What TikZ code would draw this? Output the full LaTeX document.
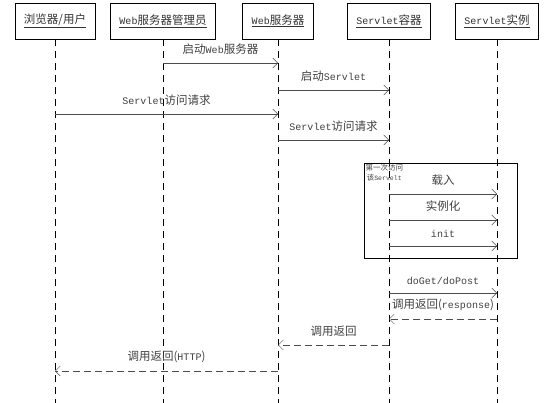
\documentclass[tikz,border=0pt]{standalone}
\usepackage{fontspec}
\setmainfont{Noto Sans CJK SC}
\setmonofont[Scale=0.87]{Liberation Mono}
\usetikzlibrary{arrows.meta,positioning}

\begin{document}
\begin{tikzpicture}[
    x=1pt, y=-1pt,
    actor/.style={rectangle, draw, thick, fill=white, minimum height=36pt, inner xsep=9pt, font=\fontsize{11.5}{13}\selectfont, text=black!80},
    lifeline/.style={dash pattern=on 7pt off 5pt, thin},
    msg/.style={-{Straight Barb[length=5pt,width=10pt]}, black!70, thin},
    reply/.style={msg, dash pattern=on 7pt off 4pt},
    lbl/.style={midway, above=5pt, font=\fontsize{11.5}{13}\selectfont, text=black!75},
]
    \useasboundingbox (0,0) rectangle (554,403);

    % Actors
    \node[actor] (user) at (55,21) {\underline{浏览器/用户}};
    \node[actor] (admin) at (163,21) {\underline{\texttt{Web}服务器管理员}};
    \node[actor] (web) at (278,21) {\underline{\texttt{Web}服务器}};
    \node[actor] (container) at (389,21) {\underline{\texttt{Servlet}容器}};
    \node[actor] (servlet) at (497,21) {\underline{\texttt{Servlet}实例}};

    % Lifelines
    \draw[lifeline] (user.south) -- (user |- 0,403);
    \draw[lifeline] (admin.south) -- (admin |- 0,403);
    \draw[lifeline] (web.south) -- (web |- 0,403);
    \draw[lifeline] (container.south) -- (container |- 0,403);
    \draw[lifeline] (servlet.south) -- (servlet |- 0,403);

    % First access frame
    \node[draw, thin, minimum width=153pt, minimum height=95pt, inner sep=0pt] (firstload) at (440.5,210.5) {};
    \node[anchor=north west, align=center, inner sep=1.5pt, font=\fontsize{7.5}{10}\selectfont, text=black!75] (firstlbl) at (firstload.north west) {第一次访问\\该\texttt{Servelt}};

    % Requests
    \draw[msg] (admin |- 0,63) -- node[lbl] {启动\texttt{Web}服务器} (web |- 0,63);
    \draw[msg] (web |- 0,90) -- node[lbl] {启动\texttt{Servlet}} (container |- 0,90);
    \draw[msg] (user |- 0,114) -- node[lbl] {\texttt{Servlet}访问请求} (web |- 0,114);
    \draw[msg] (web |- 0,140) -- node[lbl] {\texttt{Servlet}访问请求} (container |- 0,140);

    % Loading
    \draw[msg] (container |- 0,194) -- node[lbl] {载入} (servlet |- 0,194);
    \draw[msg] (container |- 0,220) -- node[lbl] {实例化} (servlet |- 0,220);
    \draw[msg] (container |- 0,246) -- node[lbl] {\texttt{init}} (servlet |- 0,246);

    % Service and replies
    \draw[msg] (container |- 0,293) -- node[lbl] {\texttt{doGet/doPost}} (servlet |- 0,293);
    \draw[reply] (servlet |- 0,319) -- node[lbl] {调用返回(\texttt{response})} (container |- 0,319);
    \draw[reply] (container |- 0,345) -- node[lbl] {调用返回} (web |- 0,345);
    \draw[reply] (web |- 0,371) -- node[lbl] {调用返回(\texttt{HTTP})} (user |- 0,371);

\end{tikzpicture}
\end{document}
